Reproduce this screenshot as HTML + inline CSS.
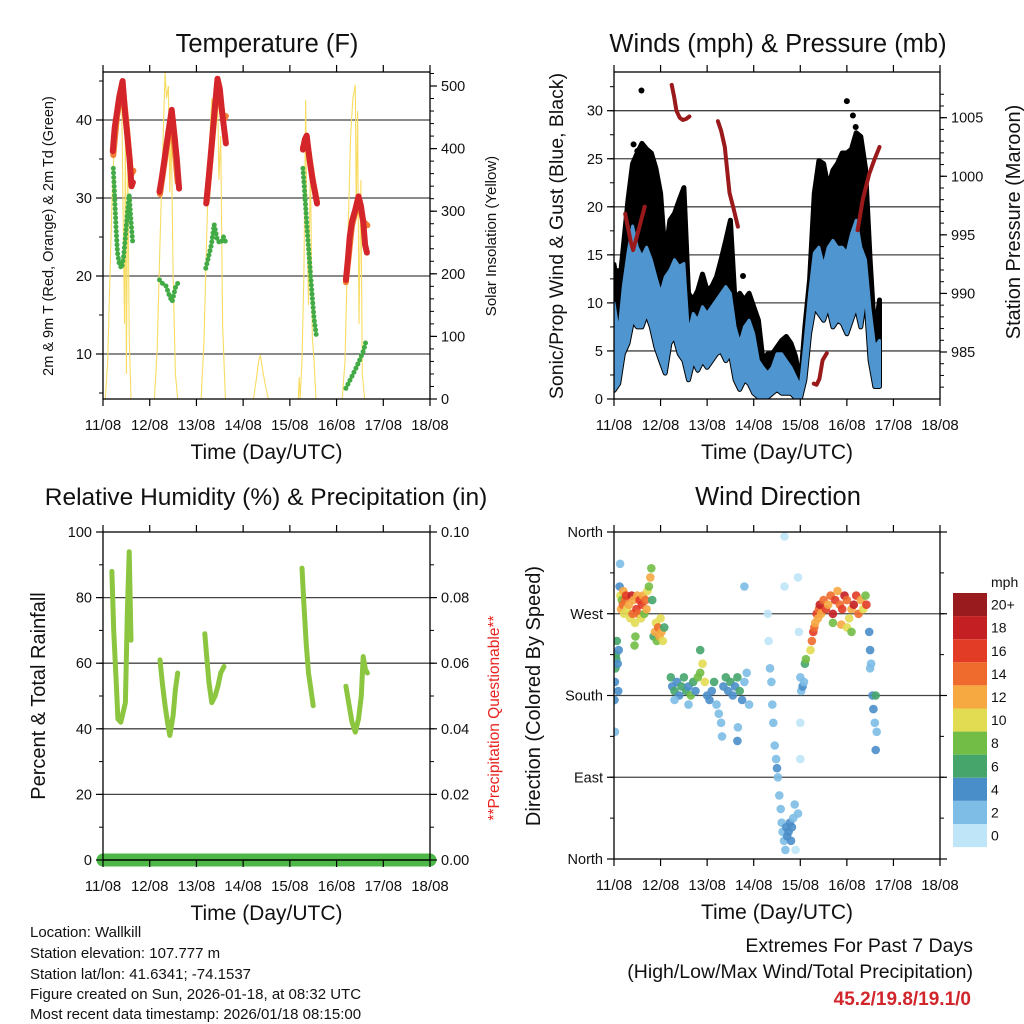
<!DOCTYPE html>
<html><head><meta charset="utf-8"><style>
html,body{margin:0;padding:0;background:#fff;}
svg{display:block;font-family:"Liberation Sans",Arial,sans-serif;}
</style></head><body>
<svg id="chart" width="1024" height="1024" viewBox="0 0 1024 1024" xmlns="http://www.w3.org/2000/svg">
<rect width="1024" height="1024" fill="#fff"/>
<g font-size="15" fill="#111">
<text x="30" y="937">Location: Wallkill</text>
<text x="30" y="958">Station elevation: 107.777 m</text>
<text x="30" y="979">Station lat/lon: 41.6341; -74.1537</text>
<text x="30" y="999">Figure created on Sun, 2026-01-18, at 08:32 UTC</text>
<text x="30" y="1019">Most recent data timestamp: 2026/01/18 08:15:00</text>
</g>
<g text-anchor="end">
<text x="973" y="952" font-size="19.5" fill="#111">Extremes For Past 7 Days</text>
<text x="973" y="978" font-size="19.5" fill="#111">(High/Low/Max Wind/Total Precipitation)</text>
<text x="971" y="1005" font-size="19" font-weight="bold" fill="#d1262b">45.2/19.8/19.1/0</text>
</g>
</svg>
<script>
// ---------- data ----------
const dayLabels = ["11/08","12/08","13/08","14/08","15/08","16/08","17/08","18/08"];
// Temperature (F) 2m T (red)
const t2T = [0.21,0.25,0.3,0.35,0.42,0.47,0.52,0.57,0.61,0.64,null,1.21,1.27,1.33,1.4,1.47,1.53,1.58,1.63,null,2.21,2.27,2.33,2.4,2.45,2.5,2.55,2.6,2.63,null,4.28,4.32,4.36,4.42,4.48,4.53,4.58,null,5.2,5.24,5.28,5.33,5.4,5.47,5.52,5.57,5.61,5.65];
const t2V = [36,39,41,43,45,41,38,35,31.5,32,null,30.8,33,35.5,38.5,41.3,38,35,31.2,null,29.3,33,37,42,45.3,44,41,38.5,37,null,36.2,37.5,38,35,32.5,31,29.3,null,19.5,22,25,27,28.5,30.2,29,27,24,23];
// 9m T (orange)
const t9T = [0.22,0.3,0.42,0.52,0.6,0.65,null,1.22,1.4,1.47,1.6,null,2.22,2.4,2.46,2.58,2.63,null,4.28,4.36,4.5,4.58,null,5.2,5.33,5.47,5.57,5.66];
const t9V = [35.5,40.5,44.5,38.5,33,33.5,null,30.5,38,40.5,32,null,29.5,41.5,44.5,40,40.5,null,36.5,37.5,32,29.5,null,19.2,26.5,29.8,27,26.5];
// 2m Td (green)
const tdT = [0.22,0.25,0.28,0.31,0.35,0.4,0.44,0.48,0.52,0.56,0.6,0.64,null,1.21,1.28,1.35,1.42,1.48,1.55,1.62,null,2.2,2.26,2.32,2.38,2.45,2.52,2.58,2.63,null,4.28,4.32,4.37,4.42,4.47,4.52,4.57,null,5.2,5.3,5.4,5.5,5.58,5.64];
const tdV = [33.8,30,26,23,21.5,21,22.5,25,28,30.4,27,24,null,19.5,19,18.7,17.5,16.7,18.5,19.3,null,21,22.5,24,26.6,24.5,24.2,25,24.3,null,33.8,30.5,26,22,18,14.5,12.2,null,5.6,6.8,8,9.3,10.5,11.9];
// Solar insolation (W/m2)
const solT = [0.05,0.1,0.15,0.2,0.25,0.3,0.33,0.36,0.4,0.43,0.46,0.48,0.5,0.53,0.56,0.6,null,1.1,1.16,1.22,1.28,1.33,1.36,1.4,1.43,1.46,1.5,1.55,1.6,null,2.1,2.16,2.22,2.28,2.33,2.38,2.42,2.45,2.48,2.52,2.56,2.62,null,3.22,3.28,3.33,3.37,3.42,3.48,3.54,null,4.18,4.2,4.22,4.26,4.3,4.34,4.36,4.4,4.44,4.48,4.52,4.56,null,5.12,5.18,5.24,5.3,5.35,5.4,5.42,5.45,5.48,5.52,5.55,5.6];
const solV = [0,60,200,330,420,470,430,500,480,300,120,430,40,380,100,0,null,0,80,250,400,522,480,500,330,440,200,40,0,null,0,90,260,410,480,440,510,500,350,420,120,0,null,0,30,60,70,45,20,0,null,0,35,0,60,200,478,300,150,380,100,60,0,null,0,60,250,420,480,502,300,460,120,350,40,0];
// Winds (mph)
const windT = [0,0.1,0.2,0.3,0.4,0.5,0.6,0.7,0.8,0.9,1.0,1.1,1.2,1.3,1.4,1.5,1.6,1.7,1.8,1.9,2.0,2.1,2.2,2.3,2.4,2.5,2.6,2.7,2.8,2.9,3.0,3.1,3.2,3.3,3.4,3.5,3.6,3.7,3.8,3.9,4.0,4.1,4.2,4.3,4.4,4.5,4.6,4.7,4.8,4.9,5.0,5.1,5.2,5.3,5.4,5.5,5.6,5.7];
const gustMax = [14,11,15.8,20.7,24.5,25.6,26.6,26,25.6,24,21.4,14.8,18.6,19.3,20.7,22,11,10.3,11.3,13,11.3,11.7,12.7,14.5,16.5,18.6,10,11,10.3,11,9.6,8.2,4,4.7,4.7,5.4,6.1,6.5,5.8,4.4,1.6,7.5,12.4,21.4,24.8,24.5,22,23.8,24.5,25.6,25.6,26,27.7,27.3,24,14.5,6.5,10.3];
const sonicMax = [10,6.8,11.7,15.2,18,15.8,14.8,15.8,14.5,12.7,11,12.7,13.4,14.5,13.8,14.1,6.8,8.9,8.2,9.6,8.9,9.6,10.3,11,11.7,11,7.5,5.8,7.5,8.2,6.8,4,3.3,2.7,3.3,4.7,4.7,4,3.3,2.3,1.3,5.8,11,15.2,15.8,13.8,15.8,16.5,15.8,15.8,15.2,17.2,18.6,15.8,14.5,9.3,5.4,6.1];
const sonicMin = [0.9,1.6,4.7,5.8,8.2,7.5,7.5,8.9,7.5,5.4,4,2.7,5.8,6.5,4.7,4,2,4,3,4,3.3,4,4.7,5,4,4.7,2,1,2,1.6,0.6,0.2,0.2,0.2,0.6,1,0.6,0.6,0.6,0.1,0,2,6.8,9.6,8.9,8.2,9.6,7.5,8.2,7.9,6.8,8.2,9.6,7.5,11,4,1.3,1.3];
const gustOutT = [0.59,0.42,0.5,5.0,5.13,5.19,5.2,0.08,2.77];
const gustOutV = [32.1,26.5,25.8,31,29.5,28.3,27.2,13.3,12.8];
// Station pressure (mb)
const presT = [0.24,0.3,0.36,0.41,0.5,0.58,0.66,null,1.24,1.29,1.34,1.41,1.48,1.55,1.62,null,2.23,2.3,2.38,2.43,2.48,2.57,2.66,null,4.29,4.35,4.41,4.48,4.57,null,5.23,5.29,5.34,5.41,5.48,5.59,5.7];
const presV = [996.8,995.6,994.4,993.7,995,996.2,997.4,null,1007.8,1006.8,1005.6,1005,1004.8,1004.9,1005.1,null,1004.7,1003.9,1002.5,1000.5,998.6,997.2,995.7,null,982.3,982.2,982.7,984.3,984.9,null,995.4,996.8,998,999.1,1000.2,1001.4,1002.5];
// Relative humidity (%)
const rhT = [0.19,0.23,0.28,0.32,0.38,0.43,0.48,0.52,0.56,0.6,null,1.22,1.27,1.33,1.38,1.43,1.5,1.55,1.6,null,2.18,2.22,2.27,2.33,2.4,2.46,2.52,2.59,null,4.26,4.3,4.35,4.4,4.45,4.5,null,5.2,5.27,5.33,5.4,5.47,5.53,5.57,5.62,5.66];
const rhV = [88,70,55,43,42,45,48,75,94,67,null,61,54,47,42,38,44,52,57,null,69,62,54,48,50,53,57,59,null,89,78,66,57,52,47,null,53,47,42,39,43,50,62,58,57];
// Precipitation (in)
const precipT = [0,7];
const precipV = [0,0];
// Wind direction (deg) and speed (mph)
const dirT = [0.01,0.02,0.03,0.04,0.05,0.06,0.08,0.09,0.02,0.1, 0.12,0.14,0.15,0.17,0.19,0.2,0.22,0.24,0.26,0.28,0.13, 0.32,0.35,0.38,0.4,0.42,0.45,0.48,0.5,0.52,0.55,0.58,0.6,0.62,0.65,0.68,0.7,0.72,0.75,0.78,0.8,0.82,0.44,0.46, 0.85,0.88,0.9,0.92,0.95,0.98,1.0,1.02,1.05,1.08, 1.22,1.25,1.3,1.35,1.4,1.45,1.5,1.55,1.6,1.65,1.7,1.75,1.8,1.85,1.9,1.95,2.0,2.05,1.3,1.6,1.85, 2.1,2.15,2.2,2.25,2.3,2.32,2.35,2.4,2.45,2.5,2.55,2.6,2.65,2.7,2.75,2.8,2.85,2.9,2.8,2.65,2.66, 3.3,3.32,3.35,3.38,3.4,3.42,3.45,3.48,3.5,3.52,3.55,3.58,3.6,3.62,3.65,3.68,3.7,3.72,3.75,3.78,3.8,3.82,3.85,3.88,3.9,3.66,3.66,3.95, 3.95,3.97,4.0,4.02,4.05,4.08,4.1,4.12,4.0,4.0, 4.22,4.25,4.28,4.3,4.32,4.35,4.38,4.4,4.42,4.45, 4.5,4.55,4.6,4.65,4.7,4.75,4.8,4.85,4.9,4.95,5.0,5.05,5.1,5.15,5.2,5.25,5.3,5.35,5.4,5.42,4.88,5.0,5.1,4.7, 5.48,5.5,5.52,5.55,5.57,5.6,5.62,5.64,5.62,5.5];
const dirD = [175,195,210,225,220,240,215,185,140,230, 300,290,275,285,280,295,270,285,290,275,325, 280,265,290,270,285,260,275,290,270,285,265,280,290,270,285,275,295,300,310,320,285,235,245, 245,250,260,240,255,245,265,250,240,255, 200,190,185,195,180,190,200,185,190,180,195,185,200,205,215,195,180,175,175,170,230, 185,195,170,160,150,135,190,200,185,195,180,190,200,185,175,195,205,170,300,130,145, 270,240,210,195,170,150,125,110,100,90,70,55,40,30,20,10,35,25,30,40,20,35,45,60,10,355,300,50, 310,250,200,185,190,195,215,220,150,110, 230,240,250,255,260,270,265,275,280,270, 285,275,280,290,270,285,295,280,275,290,285,265,275,280,290,270,285,275,290,280,258,255,250,260, 250,230,215,180,165,150,180,140,120,210];
const dirS = [5,5,6,7,6,7,5,4,2,4, 4,10,12,8,14,12,10,15,16,11,2, 12,10,18,14,12,10,16,13,15,17,11,16,12,9,14,12,10,8,12,8,6,9,8, 6,12,10,9,14,12,10,13,11,6, 6,5,7,5,4,6,7,6,5,8,6,4,8,9,10,11,5,4,3,2,6, 5,6,3,2,2,2,4,6,5,6,4,5,7,6,4,3,2,2,2,4,3, 1,1,2,2,2,2,3,3,4,3,2,2,2,3,2,2,4,5,5,4,4,5,3,2,1,1,1,2, 1,1,2,3,4,3,6,8,1,1, 10,14,16,14,12,16,12,14,18,12, 14,16,12,14,18,16,12,14,16,18,14,10,12,18,16,14,12,10,8,16,12,10,9,8, 4,4,3,4,4,3,6,2,4,2];
const speedLabels = ["0","2","4","6","8","10","12","14","16","18","20+"];
const speedColors = ["#bfe6f8","#7dbde6","#4a8ec9","#46a56b","#72bd45","#e2dc52","#f6a941","#ee6b2d","#e23b26","#c41f23","#991b1e"];

// ---------- helpers ----------
const NS = "http://www.w3.org/2000/svg";
const svg = document.getElementById("chart");
function mk(tag, attrs, parent) {
  const e = document.createElementNS(NS, tag);
  for (const k in attrs) e.setAttribute(k, attrs[k]);
  (parent || svg).appendChild(e);
  return e;
}
function lin(d0, d1, r0, r1) { return v => r0 + (v - d0) * (r1 - r0) / (d1 - d0); }
function pathFrom(ts, vs, sx, sy) {
  let d = "", pen = false;
  for (let i = 0; i < ts.length; i++) {
    if (ts[i] == null || vs[i] == null) { pen = false; continue; }
    d += (pen ? "L" : "M") + sx(ts[i]).toFixed(1) + "," + sy(vs[i]).toFixed(1);
    pen = true;
  }
  return d;
}
function txt(parent, x, y, s, attrs) {
  const e = mk("text", Object.assign({x: x, y: y}, attrs || {}), parent);
  e.textContent = s;
  return e;
}

const P1 = {x0:103, x1:430, y0:72, y1:399};
const P2 = {x0:614, x1:940, y0:72, y1:399};
const P3 = {x0:103, x1:430, y0:532, y1:860};
const P4 = {x0:614, x1:940, y0:532, y1:859};

function clipFor(p, id) {
  const cp = mk("clipPath", {id: id});
  mk("rect", {x: p.x0, y: p.y0, width: p.x1 - p.x0, height: p.y1 - p.y0}, cp);
  return "url(#" + id + ")";
}

function xAxis(p, g) {
  const sx = lin(0, 7, p.x0, p.x1);
  for (let i = 0; i < dayLabels.length; i++) {
    const x = sx(i);
    mk("line", {x1: x, y1: p.y1, x2: x, y2: p.y1 + 7, stroke: "#000", "stroke-width": 1.2}, g);
    mk("line", {x1: x, y1: p.y0, x2: x, y2: p.y0 - 7, stroke: "#000", "stroke-width": 1.2}, g);
    const lab = txt(g, x, p.y1 + 31, dayLabels[i], {"font-size": 15, "text-anchor": "middle", fill: "#111"});
    
    
  }
  const t = txt(g, (p.x0 + p.x1) / 2, p.y1 + 60, "Time (Day/UTC)", {"font-size": 21, "text-anchor": "middle", fill: "#111"});
  
  
  return sx;
}
function yTicks(p, g, side, sy, majors, minors, labels) {
  const x = side === "left" ? p.x0 : p.x1;
  const dir = side === "left" ? -1 : 1;
  for (const m of minors) {
    mk("line", {x1: x, y1: sy(m), x2: x + dir * 4, y2: sy(m), stroke: "#000", "stroke-width": 1}, g);
  }
  majors.forEach((m, i) => {
    mk("line", {x1: x, y1: sy(m), x2: x + dir * 7, y2: sy(m), stroke: "#000", "stroke-width": 1.2}, g);
    if (labels && labels[i] != null) {
      const l = txt(g, x + dir * 11, sy(m) + 5, labels[i], {"font-size": 14.5, "text-anchor": side === "left" ? "end" : "start", fill: "#111"});
      
      
    }
  });
}
function grid(p, g, ys) {
  for (const y of ys) mk("line", {x1: p.x0, y1: y, x2: p.x1, y2: y, stroke: "#444", "stroke-width": 1.3}, g);
}
function frame(p, g) {
  mk("rect", {x: p.x0, y: p.y0, width: p.x1 - p.x0, height: p.y1 - p.y0, fill: "none", stroke: "#000", "stroke-width": 1.3}, g);
}
function vlabel(g, x, y, s, size, color, name) {
  const e = txt(g, 0, 0, s, {"font-size": size, "text-anchor": "middle", fill: color || "#111", transform: "translate(" + x + "," + y + ") rotate(-90)"});
  
  
}
function range(a, b, s) { const r = []; for (let v = a; v <= b + 1e-9; v += s) r.push(+v.toFixed(6)); return r; }

// ---------- Panel 1: Temperature ----------
{
  const g = mk("g", {});
  
  
  const p = P1;
  const sx = lin(0, 7, p.x0, p.x1);
  const sy = lin(10, 40, 354, 120);
  const sr = lin(0, 500, 399, 86);
  grid(p, g, [10, 20, 30, 40].map(sy));
  const dg = mk("g", {"clip-path": clipFor(p, "c1")}, g);
  const sol = mk("path", {d: pathFrom(solT, solV, sx, sr), fill: "none", stroke: "#f8dc62", "stroke-width": 1.1}, dg);
  
  
  const o = mk("path", {d: pathFrom(t9T, t9V, sx, sy), fill: "none", stroke: "#f27f34", "stroke-width": 6, "stroke-linecap": "round", "stroke-linejoin": "round"}, dg);
  
  
  const r = mk("path", {d: pathFrom(t2T, t2V, sx, sy), fill: "none", stroke: "#d4262a", "stroke-width": 6, "stroke-linecap": "round", "stroke-linejoin": "round"}, dg);
  
  
  const d = mk("path", {d: pathFrom(tdT, tdV, sx, sy), fill: "none", stroke: "#43ab45", "stroke-width": 5, "stroke-linecap": "round", "stroke-dasharray": "0 4.5"}, dg);
  
  
  frame(p, g);
  xAxis(p, g);
  yTicks(p, g, "left", sy, [10, 20, 30, 40], range(5, 45, 5), ["10", "20", "30", "40"]);
  yTicks(p, g, "right", sr, range(0, 500, 100), range(0, 520, 20), ["0", "100", "200", "300", "400", "500"]);
  const t = txt(g, 267, 52, "Temperature (F)", {"font-size": 25.5, "text-anchor": "middle", fill: "#111"});
  
  
  vlabel(g, 53, 236, "2m & 9m T (Red, Orange) & 2m Td (Green)", 14.5, "#111", "temperature-y-axis-title");
  vlabel(g, 496, 236, "Solar Insolation (Yellow)", 15, "#111", "solar-y-axis-title");
}

// ---------- Panel 2: Winds & Pressure ----------
{
  const g = mk("g", {});
  
  
  const p = P2;
  const sx = lin(0, 7, p.x0, p.x1);
  const sy = lin(0, 30, 399, 110.7);
  const sp = lin(985, 1005, 352, 117.7);
  grid(p, g, [5, 10, 15, 20, 25, 30].map(sy));
  const dg = mk("g", {"clip-path": clipFor(p, "c2")}, g);
  let top = "", bot = "";
  for (let i = 0; i < windT.length; i++) top += (i ? "L" : "M") + sx(windT[i]).toFixed(1) + "," + sy(gustMax[i]).toFixed(1);
  for (let i = windT.length - 1; i >= 0; i--) bot += "L" + sx(windT[i]).toFixed(1) + "," + sy(sonicMin[i]).toFixed(1);
  const gp = mk("path", {d: top + bot + "Z", fill: "#000", stroke: "#000", "stroke-width": 5, "stroke-linejoin": "round"}, dg);
  
  
  for (let i = 0; i < gustOutT.length; i++) {
    const c = mk("circle", {cx: sx(gustOutT[i]), cy: sy(gustOutV[i]), r: 3, fill: "#000"}, dg);
    
    
  }
  let bt = "", bb = "";
  for (let i = 0; i < windT.length; i++) bt += (i ? "L" : "M") + sx(windT[i]).toFixed(1) + "," + sy(sonicMax[i]).toFixed(1);
  for (let i = windT.length - 1; i >= 0; i--) bb += "L" + sx(windT[i]).toFixed(1) + "," + sy(sonicMin[i]).toFixed(1);
  const bp = mk("path", {d: bt + bb + "Z", fill: "#4f95d0", stroke: "#4f95d0", "stroke-width": 3, "stroke-linejoin": "round"}, dg);
  
  
  const pr = mk("path", {d: pathFrom(presT, presV, sx, sp), fill: "none", stroke: "#9a1a1c", "stroke-width": 4, "stroke-linecap": "round", "stroke-linejoin": "round"}, dg);
  
  
  frame(p, g);
  xAxis(p, g);
  yTicks(p, g, "left", sy, range(0, 30, 5), range(0, 32.5, 2.5), ["0", "5", "10", "15", "20", "25", "30"]);
  yTicks(p, g, "right", sp, range(985, 1005, 5), range(982, 1007, 1), ["985", "990", "995", "1000", "1005"]);
  const t = txt(g, 778, 52, "Winds (mph) & Pressure (mb)", {"font-size": 25.5, "text-anchor": "middle", fill: "#111"});
  
  
  vlabel(g, 563, 236, "Sonic/Prop Wind & Gust (Blue, Black)", 19.5, "#111", "wind-y-axis-title");
  vlabel(g, 1020, 222, "Station Pressure (Maroon)", 20, "#111", "pressure-y-axis-title");
}

// ---------- Panel 3: RH & Precip ----------
{
  const g = mk("g", {});
  
  
  const p = P3;
  const sx = lin(0, 7, p.x0, p.x1);
  const sy = lin(0, 100, 860, 532);
  const sq = lin(0, 0.1, 860, 532);
  grid(p, g, [20, 40, 60, 80].map(sy));
  const dg = mk("g", {"clip-path": clipFor(p, "c3")}, g);
  const rh = mk("path", {d: pathFrom(rhT, rhV, sx, sy), fill: "none", stroke: "#8cc640", "stroke-width": 5, "stroke-linecap": "round", "stroke-linejoin": "round"}, dg);
  
  
  const pc = mk("path", {d: pathFrom(precipT, precipV, sx, sq), fill: "none", stroke: "#4db848", "stroke-width": 13, "stroke-linecap": "round"}, g);
  
  
  frame(p, g);
  mk("line", {x1: p.x0, y1: p.y1, x2: p.x1, y2: p.y1, stroke: "#000", "stroke-width": 1.3}, g);
  xAxis(p, g);
  yTicks(p, g, "left", sy, range(0, 100, 20), range(0, 100, 10), ["0", "20", "40", "60", "80", "100"]);
  yTicks(p, g, "right", sq, range(0, 0.1, 0.02), range(0, 0.1, 0.01), ["0.00", "0.02", "0.04", "0.06", "0.08", "0.10"]);
  const t = txt(g, 266, 505, "Relative Humidity (%) & Precipitation (in)", {"font-size": 24.5, "text-anchor": "middle", fill: "#111"});
  
  
  vlabel(g, 45, 696, "Percent & Total Rainfall", 20, "#111", "humidity-y-axis-title");
  vlabel(g, 499, 718, "**Precipitation Questionable**", 15.5, "#e8231f", "precip-y-axis-title");
}

// ---------- Panel 4: Wind Direction ----------
{
  const g = mk("g", {});
  
  
  const p = P4;
  const sx = lin(0, 7, p.x0, p.x1);
  const sy = lin(0, 360, 859, 532);
  grid(p, g, [90, 180, 270].map(sy));
  const dg = mk("g", {"clip-path": clipFor(p, "c4")}, g);
  for (let i = 0; i < dirT.length; i++) {
    const bin = Math.min(10, Math.floor(dirS[i] / 2));
    const c = mk("circle", {cx: sx(dirT[i]).toFixed(1), cy: sy(dirD[i]).toFixed(1), r: 4.3, fill: speedColors[bin], "fill-opacity": 0.9}, dg);
    
    
  }
  frame(p, g);
  xAxis(p, g);
  yTicks(p, g, "left", sy, [0, 90, 180, 270, 360], range(0, 360, 45), ["North", "East", "South", "West", "North"]);
  yTicks(p, g, "right", sy, [0, 90, 180, 270, 360], range(0, 360, 45), null);
  const t = txt(g, 778, 505, "Wind Direction", {"font-size": 25.5, "text-anchor": "middle", fill: "#111"});
  
  
  vlabel(g, 540, 696, "Direction (Colored By Speed)", 20, "#111", "direction-y-axis-title");
  // colorbar
  const cb = mk("g", {}, g);
  
  
  const boxH = 23.1, topY = 593;
  for (let i = 0; i < speedColors.length; i++) {
    const k = speedColors.length - 1 - i;
    const y = topY + i * boxH;
    const r = mk("rect", {x: 953, y: y.toFixed(1), width: 34, height: boxH.toFixed(1), fill: speedColors[k]}, cb);
    
    
    const l = txt(cb, 991, (y + boxH / 2 + 5).toFixed(1), speedLabels[k], {"font-size": 14, fill: "#111"});
    
    
  }
  const m = txt(cb, 991, 587, "mph", {"font-size": 14, fill: "#111"});
  
  
}
</script>
</body></html>
